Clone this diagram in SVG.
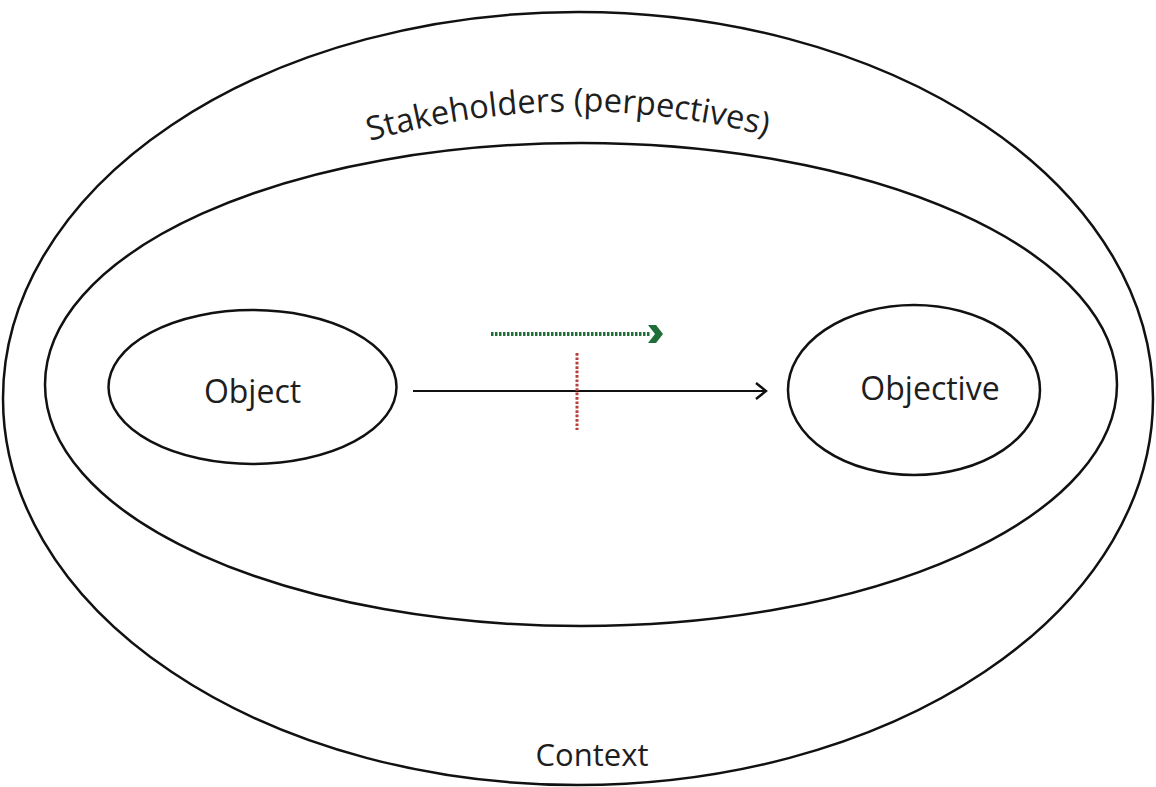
<svg xmlns="http://www.w3.org/2000/svg" width="1156" height="787" viewBox="0 0 1156 787">
<style>
.e{fill:none;stroke:#111;stroke-width:2.5}
.t{font-family:"Open Sans","Noto Sans",sans-serif;fill:#1e1e1e}
</style>
<defs>
<marker id="open" markerWidth="20" markerHeight="20" refX="14" refY="10" orient="auto" markerUnits="userSpaceOnUse">
<path d="M4 2 L14 10 L4 18" fill="none" stroke="#111" stroke-width="2.4"/>
</marker>
<path id="arc" d="M360 144 Q566 82 775 138"/>
</defs>
<rect width="1156" height="787" fill="#fff"/>
<g id="context">
<ellipse class="e" cx="578" cy="398.5" rx="575" ry="386.5"/>
<text class="t" x="592" y="766" font-size="31" text-anchor="middle">Context</text>
</g>
<g id="stakeholders">
<ellipse class="e" cx="581" cy="384.5" rx="536" ry="241.5"/>
<text class="t" font-size="33"><textPath href="#arc" textLength="402" lengthAdjust="spacingAndGlyphs" startOffset="10">Stakeholders (perpectives)</textPath></text>
</g>
<g id="object">
<ellipse class="e" cx="252.5" cy="387" rx="144" ry="77"/>
<text class="t" x="252.5" y="403" font-size="32" text-anchor="middle">Object</text>
</g>
<g id="objective">
<ellipse class="e" cx="914" cy="390" rx="126" ry="85"/>
<text class="t" x="930" y="400" font-size="32" text-anchor="middle">Objective</text>
</g>
<g id="connectors">
<line x1="413" y1="391" x2="766" y2="391" stroke="#111" stroke-width="2.2" marker-end="url(#open)"/>
<line x1="491" y1="334" x2="650" y2="334" stroke="#1f6e37" stroke-width="4" stroke-dasharray="2.5 1.5"/>
<path d="M648 325 L656 325 L663 334 L656 343 L648 343 L655 334 Z" fill="#1f6e37"/>
<line x1="577" y1="353" x2="577" y2="430" stroke="#b5403d" stroke-width="3" stroke-dasharray="2.7 1.7"/>
</g>
</svg>
